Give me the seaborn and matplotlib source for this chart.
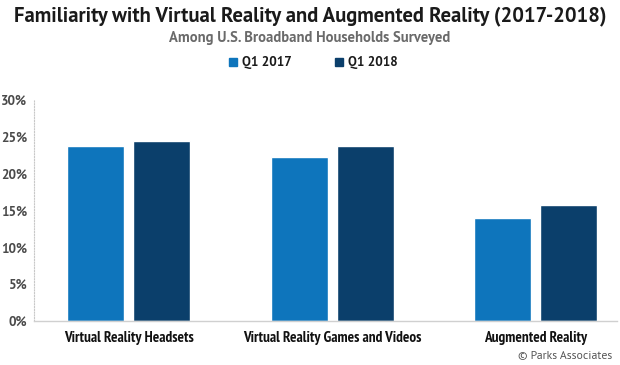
import pandas as pd
import seaborn as sns
import matplotlib.pyplot as plt
from matplotlib.ticker import PercentFormatter

categories = ["Virtual Reality Headsets", "Virtual Reality Games and Videos", "Augmented Reality"]
q1_2017 = [23.8, 22.2, 14.0]
q1_2018 = [24.5, 23.8, 15.7]
series = ["Q1 2017", "Q1 2018"]
colors = ["#0E75BC", "#0B3F6B"]

df = pd.DataFrame({
    "category": categories * 2,
    "value": q1_2017 + q1_2018,
    "period": [series[0]] * 3 + [series[1]] * 3,
})

sns.set_theme(style="white")
main_font = ["PT Sans", "DejaVu Sans"]
narrow_font = ["PT Sans Narrow", "Liberation Sans Narrow", "DejaVu Sans"]
plt.rcParams['font.family'] = main_font

fig = plt.figure(figsize=(6.2, 3.65), dpi=100)
ax = fig.add_axes([0.055, 0.1205, 0.94, 0.6055])

sns.barplot(data=df, x="category", y="value", hue="period", palette=colors,
            width=0.65, gap=0.135, ax=ax, legend=False, saturation=1)

ax.set_xlim(-0.466, 2.40)
ax.set_ylim(0, 30)
ax.set_yticks(range(0, 31, 5))
ax.yaxis.set_major_formatter(PercentFormatter(decimals=0))
ax.set_xlabel("")
ax.set_ylabel("")

for s in ["top", "right"]:
    ax.spines[s].set_visible(False)
ax.spines["left"].set_color("#c8c8c8")
ax.spines["left"].set_linestyle((0, (1, 1.5)))
ax.spines["left"].set_linewidth(0.8)
ax.spines["bottom"].set_color("#d0d0d0")
ax.spines["bottom"].set_linewidth(1.0)

ax.tick_params(axis="y", length=0, pad=5, labelsize=9.5, labelcolor="#4a4a4a")
ax.tick_params(axis="x", length=0, pad=7, labelsize=11, labelcolor="#111111")
for t in ax.get_yticklabels():
    t.set_fontweight("bold")
for t in ax.get_xticklabels():
    t.set_fontweight("bold")
    t.set_family(narrow_font)

fig.text(0.5, 0.957, "Familiarity with Virtual Reality and Augmented Reality (2017-2018)",
         ha="center", va="center", fontsize=14.9, fontweight="bold", color="#1a1a1a")
fig.text(0.5, 0.895, "Among U.S. Broadband Households Surveyed",
         ha="center", va="center", fontsize=10.5, fontweight="bold", color="#6a6a6a")

# legend
for x, lab, c in [(0.369, series[0], colors[0]), (0.540, series[1], colors[1])]:
    fig.patches.append(plt.Rectangle((x, 0.818), 0.014, 0.024, color=c,
                                     transform=fig.transFigure, figure=fig))
    fig.text(x + 0.022, 0.830, lab, ha="left", va="center", fontsize=9.5,
             fontweight="bold", color="#1a1a1a")

fig.text(0.987, 0.027, "© Parks Associates", ha="right", va="center",
         fontsize=8.5, color="#555555")

fig.savefig("out.png", dpi=100)
